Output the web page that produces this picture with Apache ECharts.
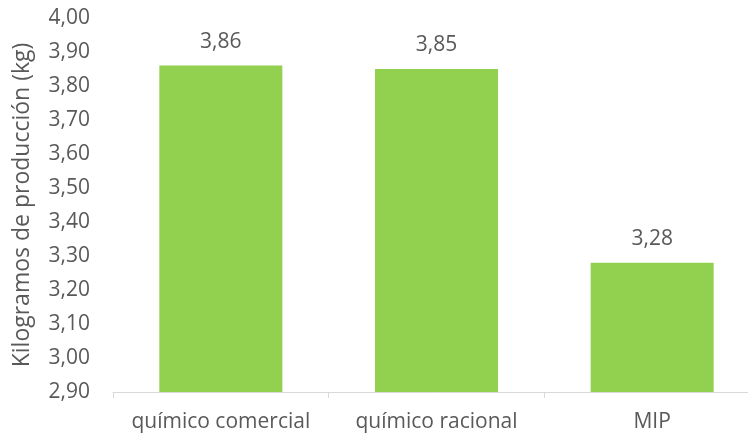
<!DOCTYPE html>
<html>
<head>
<meta charset="utf-8">
<script src="https://cdn.jsdelivr.net/npm/echarts@6/dist/echarts.min.js"></script>
<style>
  html, body { margin: 0; padding: 0; background: #fff; overflow: hidden; }
  #chart { width: 760px; height: 437px; }
</style>
</head>
<body>
<div id="chart"></div>
<script>
var categories = ['químico comercial', 'químico racional', 'MIP'];
var values = [3.86, 3.85, 3.28];
var yMin = 2.9, yMax = 4.0, yStep = 0.1;

var textColor = '#595959';
var fontFamily = '"Open Sans", sans-serif';

function comma(v, d) {
    return v.toFixed(d).replace('.', ',');
}

// the plot area of the original runs a little past the right edge
var option = {
    animation: false,
    grid: {
        left: 113,
        right: 0,
        top: 18,
        bottom: 45,
        containLabel: false
    },
    xAxis: {
        type: 'category',
        data: categories,
        axisLine: { lineStyle: { color: '#d9d9d9', width: 1 } },
        axisTick: { show: true, length: 6, lineStyle: { color: '#d9d9d9' } },
        axisLabel: {
            interval: 0,
            hideOverlap: false,
            color: textColor,
            fontSize: 21,
            fontFamily: fontFamily,
            margin: 20
        }
    },
    yAxis: {
        type: 'value',
        min: yMin,
        max: yMax,
        interval: yStep,
        name: 'Kilogramos de producción (kg)',
        nameLocation: 'middle',
        nameGap: 79,
        nameTextStyle: { color: textColor, fontSize: 23, fontFamily: fontFamily },
        axisLine: { show: false },
        axisTick: { show: false },
        splitLine: { show: false },
        axisLabel: {
            color: textColor,
            fontSize: 21,
            fontFamily: fontFamily,
            margin: 23,
            formatter: function (v) { return comma(v, 2); }
        }
    },
    series: [{
        type: 'bar',
        data: values,
        barWidth: 123,
        itemStyle: { color: '#92D050' },
        label: {
            show: true,
            position: 'top',
            distance: 13,
            color: textColor,
            fontSize: 21,
            fontFamily: fontFamily,
            formatter: function (p) { return comma(p.value, 2); }
        }
    }]
};

echarts.init(document.getElementById('chart')).setOption(option);
</script>
</body>
</html>
